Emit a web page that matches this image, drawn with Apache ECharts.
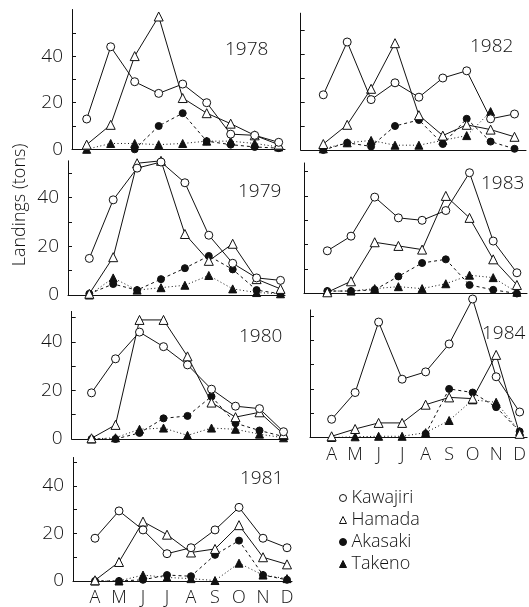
<!DOCTYPE html>
<html><head><meta charset="utf-8">
<script src="https://cdn.jsdelivr.net/npm/echarts@6/dist/echarts.min.js"></script>
<style>html,body{margin:0;padding:0;background:#fff}#c{width:529px;height:607px}</style>
</head><body><div id="c"></div>
<script>
// ---- data ----
const months = ['A','M','J','J','A','S','O','N','D'];
const seriesNames = ['Kawajiri','Hamada','Akasaki','Takeno'];
const yLabelValues = [0,20,40];
const yTickValues = [10,20,30,40,50];

const kawajiri1978 = [13, 44, 29, 24, 28, 20, 6.5, 6, 3];
const hamada1978   = [2, 10.5, 40, 57, 22, 15.5, 11, 6, 2];
const akasaki1978  = [null, null, 0, 10, 15.5, 3.5, 2, 1, 0.5];
const takeno1978   = [0, 2.5, 2.5, 2, 2.5, 3.5, 3.5, 2.5, 1];

const kawajiri1979 = [15, 39, 52, 54.5, 46, 24.5, 13, 7, 6];
const hamada1979   = [0.5, 15.5, 54, 55, 25, 14, 21, 6.5, 2.5];
const akasaki1979  = [0.5, 4.5, 2, 6.5, 11, 16, 10.5, 2, 0.5];
const takeno1979   = [0, 7, 2, 3, 4, 8, 2.5, 1, 0.5];

const kawajiri1980 = [19, 33, 44, 38, 30.5, 20.5, 13.5, 12.5, 3];
const hamada1980   = [0.3, 5.8, 49, 49, 34, 15, 9, 11, 2];
const akasaki1980  = [0, 0, 2.5, 8.5, 9.5, 17.5, 6.5, 3.5, 1];
const takeno1980   = [0, 0.5, 4, 4.5, 1.5, 4.5, 4, 2, 0.5];

const kawajiri1981 = [18, 29.5, 21.5, 11.5, 14, 21.5, 31, 18, 14];
const hamada1981   = [0.3, 8, 25, 19.5, 12, 13.5, 23.5, 10, 7];
const akasaki1981  = [0, 0, 0.5, 2.5, 2, 11, 17, 2.5, 0.5];
const takeno1981   = [0, 0, 2.5, 1.5, 1, 0.2, 7.5, 2.5, 1];

const kawajiri1982 = [23, 45, 21, 28, 22, 30, 33, 13, 15];
const hamada1982   = [2.5, 10.5, 25.5, 44.5, 14.5, 6, 10.5, 8.5, 5.5];
const akasaki1982  = [0, 3, 1.5, 10, 12.5, 2.5, 13, 3.5, 0.5];
const takeno1982   = [0.5, 3, 4, 2, 2, 4, 6, 16, null];

const kawajiri1983 = [17.5, 23.5, 39.5, 31, 30, 34, 49.5, 21.5, 8.5];
const hamada1983   = [0.5, 5, 21, 19.5, 18, 40, 31, 14, 3.5];
const akasaki1983  = [1, 1, 1.5, 7, 12.5, 14, 3.5, 1.5, 0];
const takeno1983   = [1, 1, 2, 2.8, 2, 4, 7.5, 6.5, 0.5];

const kawajiri1984 = [7.5, 18.5, 47.5, 24, 27, 38.5, 57, 25, 10.5];
const hamada1984   = [0.5, 3.5, 6, 6, 13.5, 16.5, 16, 34, 1.5];
const akasaki1984  = [null, null, null, null, 1.5, 20, 18.5, 12.5, 2.5];
const takeno1984   = [0, 0.3, 0.5, 0.5, 2, 7, 15.5, 14.5, 2.5];

const panelData = {
  '1978': [kawajiri1978, hamada1978, akasaki1978, takeno1978],
  '1979': [kawajiri1979, hamada1979, akasaki1979, takeno1979],
  '1980': [kawajiri1980, hamada1980, akasaki1980, takeno1980],
  '1981': [kawajiri1981, hamada1981, akasaki1981, takeno1981],
  '1982': [kawajiri1982, hamada1982, akasaki1982, takeno1982],
  '1983': [kawajiri1983, hamada1983, akasaki1983, takeno1983],
  '1984': [kawajiri1984, hamada1984, akasaki1984, takeno1984]
};

// ---- layout (pixel geometry of each panel) ----
const panels = [
  {year:'1978', ax:72,  a0:86.7,  step:24,   right:285, zero:149.3, ppu:2.33, top:60,   ylab:true,  xlab:false, tx:225, ty:40},
  {year:'1979', ax:68,  a0:89.3,  step:23.9, right:285, zero:295,   ppu:2.44, top:55,   ylab:true,  xlab:false, tx:238, ty:182},
  {year:'1980', ax:71.7,a0:91.5,  step:24,   right:288, zero:439,   ppu:2.43, top:52.5, ylab:true,  xlab:false, tx:239, ty:327},
  {year:'1981', ax:73,  a0:95,    step:24,   right:292, zero:583.3, ppu:2.42, top:52,   ylab:true,  xlab:true,  tx:240, ty:469},
  {year:'1982', ax:300.7,a0:323.3,step:23.9, right:526, zero:150,   ppu:2.4,  top:57,   ylab:false, xlab:false, tx:470, ty:37},
  {year:'1983', ax:304, a0:327.3, step:23.7, right:527, zero:293.5, ppu:2.44, top:53.5, ylab:false, xlab:false, tx:481, ty:174},
  {year:'1984', ax:310, a0:331.7, step:23.6, right:528, zero:437.5, ppu:2.43, top:52.5, ylab:false, xlab:true,  tx:482, ty:324}
];

const FONT = '"Open Sans", "DejaVu Sans", sans-serif';
const FW = 300;
const INK = '#111';

const styles = [
  {symbol:'circle',   size:8, fill:'#fff', line:'solid'},
  {symbol:'triangle', size:9, fill:'#fff', line:'solid'},
  {symbol:'circle',   size:7, fill:INK,    line:[3,3]},
  {symbol:'triangle', size:8, fill:INK,    line:[1,2.5]}
];

const grid = [], xAxis = [], yAxis = [], series = [], title = [];
panels.forEach((p, i) => {
  grid.push({left:p.ax, top:p.zero - p.top*p.ppu, width:p.right - p.ax, height:p.top*p.ppu});
  xAxis.push({
    type:'value', gridIndex:i,
    min: -(p.a0 - p.ax)/p.step, max: (p.right - p.a0)/p.step,
    splitLine:{show:false},
    axisLine:{show:true, onZero:false, lineStyle:{color:INK, width:1}},
    axisTick:{show:false},
    axisLabel:{show:p.xlab, customValues:months.map((m,j)=>j), margin:8,
      formatter:(v)=>months[Math.round(v)] || '', color:INK, fontSize:18, fontFamily:FONT, fontWeight:FW}
  });
  yAxis.push({
    type:'value', gridIndex:i, min:0, max:p.top,
    splitLine:{show:false},
    axisLine:{show:true, onZero:false, lineStyle:{color:INK, width:1}},
    axisTick:{show:true, inside:true, length:4, customValues:yTickValues.filter(v=>v<=p.top), lineStyle:{color:INK}},
    axisLabel:{show:p.ylab, customValues:yLabelValues, margin:9, color:INK, fontSize:19, fontFamily:FONT, fontWeight:FW}
  });
  title.push({text:p.year, left:p.tx, top:p.ty, padding:0,
    textStyle:{fontSize:19, fontWeight:FW, fontFamily:FONT, color:INK}});
  const arrs = panelData[p.year];
  [3,2,1,0].forEach(k => {
    const st = styles[k];
    series.push({
      type:'line', name:seriesNames[k], xAxisIndex:i, yAxisIndex:i,
      data: arrs[k].map((v,j)=>[j, v==null ? '-' : v]),
      symbol:st.symbol, symbolSize:st.size, showAllSymbol:true, clip:false,
      connectNulls:false, animation:false,
      lineStyle:{color:INK, width:1, type:st.line},
      itemStyle:{color:st.fill, borderColor:INK, borderWidth:1},
      emphasis:{disabled:true}, z: 2 + (3-k)
    });
  });
});

const chart = echarts.init(document.getElementById('c'), null, {renderer:'canvas'});
chart.setOption({
  animation:false,
  backgroundColor:'#fff',
  title, grid, xAxis, yAxis, series,
  legend:{
    orient:'vertical', left:334, top:484, itemWidth:7, itemHeight:7, itemGap:4,
    selectedMode:false,
    textStyle:{fontSize:18, fontFamily:FONT, fontWeight:FW, color:INK, lineHeight:18},
    data: seriesNames.map((n,k)=>({name:n, icon:styles[k].symbol,
      itemStyle:{color:styles[k].fill, borderColor:INK, borderWidth:1}}))
  },
  graphic:[{type:'text', x:20, y:205, rotation:Math.PI/2,
    style:{text:'Landings (tons)', fontSize:18, fontFamily:FONT, fontWeight:FW, fill:INK,
      textAlign:'center', textVerticalAlign:'middle'}}]
});
</script></body></html>
